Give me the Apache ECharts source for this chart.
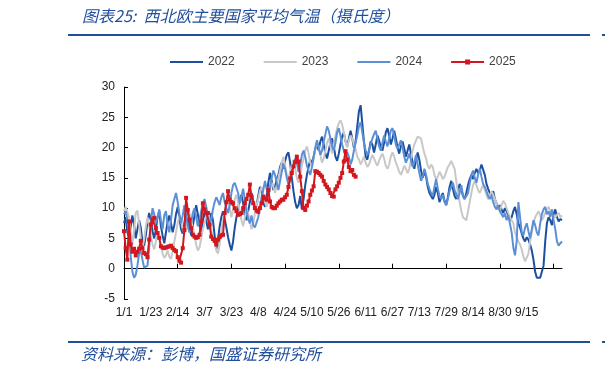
<!DOCTYPE html>
<html>
<head>
<meta charset="utf-8">
<script src="https://cdn.jsdelivr.net/npm/echarts@6/dist/echarts.min.js"></script>
<style>
html,body{margin:0;padding:0;background:#fff;}
#chart{width:605px;height:375px;}
</style>
</head>
<body>
<div id="chart"></div>
<script>
// ---- data ----
const tickLabels = ['1/1','1/23','2/14','3/7','3/23','4/8','4/24','5/10','5/26','6/11','6/27','7/13','7/29','8/14','8/30','9/15'];
const categoryCount = 262;

const y2022 = [
 7.5, 8.5, 6.0, 5.2, 7.0, 8.8, 7.2, 5.0, 6.5, 8.0,
 6.8, 4.5, 3.8, 5.5, 7.8, 9.2, 8.0, 6.2, 5.0, 6.5,
 8.5, 9.5, 7.0, 5.5, 4.2, 6.0, 7.8, 8.8, 7.5, 6.0,
 7.2, 9.0, 10.2, 8.5, 6.5, 5.8, 7.5, 9.8, 8.2, 6.8,
 5.5, 7.0, 8.8, 10.5, 9.0, 7.2, 6.0, 8.0, 9.5, 8.0,
 6.5, 7.8, 9.2, 8.0, 5.5, 3.2, 4.8, 7.0, 8.5, 9.5,
 8.2, 6.8, 5.2, 4.0, 3.0, 4.5, 6.8, 8.5, 10.0, 11.5,
 12.2, 10.8, 9.0, 8.0, 9.5, 11.0, 12.5, 11.2, 9.8, 10.5,
 12.0, 13.5, 12.8, 11.0, 10.2, 12.0, 14.2, 15.8, 14.5, 13.0,
 13.5, 14.8, 15.5, 16.8, 17.5, 16.5, 17.8, 18.8, 19.2, 17.5,
 15.0, 12.8, 11.0, 10.0, 10.5, 12.0, 9.8, 11.5, 13.8, 15.5,
 16.8, 18.0, 17.2, 18.5, 19.8, 20.5, 19.5, 21.0, 21.8, 20.5,
 19.0, 18.2, 19.5, 20.8, 21.5, 20.2, 18.5, 17.8, 19.0, 20.5,
 21.8, 22.5, 21.0, 20.2, 21.5, 22.8, 21.5, 20.0, 21.0, 23.5,
 26.0, 27.0, 24.0, 21.0, 18.5, 18.0, 19.5, 21.0, 20.5, 19.2,
 20.5, 22.0, 21.2, 20.0, 19.5, 20.8, 22.5, 23.2, 22.0, 20.5,
 21.5, 22.8, 21.5, 20.0, 19.0, 20.2, 21.0, 19.8, 18.5, 19.5,
 20.5, 19.0, 17.5, 16.5, 18.0, 19.2, 18.0, 16.2, 15.0, 16.0,
 15.2, 13.5, 12.5, 12.8, 11.5, 12.2, 13.5, 12.5, 11.0, 11.8,
 12.5, 11.2, 10.5, 11.8, 13.5, 14.5, 13.2, 12.0, 11.5, 12.8,
 14.0, 13.2, 12.0, 11.5, 12.5, 13.8, 14.8, 15.5, 14.8, 15.8,
 16.5, 15.8, 16.2, 17.2, 17.0, 15.5, 14.0, 13.2, 12.5, 12.0,
 12.8, 11.5, 10.8, 10.0, 10.5, 9.8, 9.2, 10.0, 9.5, 8.8,
 8.0, 8.5, 9.5, 10.2, 9.0, 7.5, 6.8, 5.8, 5.0, 4.5,
 5.2, 4.8, 4.0, 3.0, 1.5, -0.5, -1.5, -1.8, -1.5, -1.6,
 0.5, 4.5, 7.5, 8.5, 8.0, 7.2, 9.0, 9.8, 8.5, 7.8,
 8.2, 8.0
];

const y2023 = [
 9.5, 10.2, 10.4, 8.5, 6.0, 4.0, 6.5, 9.2, 9.6, 7.5,
 5.0, 3.5, 4.8, 7.0, 8.5, 7.2, 5.5, 4.0, 3.2, 4.5,
 6.0, 5.2, 3.8, 2.5, 1.8, 2.2, 3.0, 2.0, 1.6, 2.8,
 4.5, 6.0, 7.5, 8.8, 8.0, 6.5, 5.8, 7.0, 8.5, 9.2,
 8.0, 6.8, 5.5, 4.0, 3.0, 3.5, 5.0, 6.5, 7.5, 8.8,
 9.5, 8.2, 6.5, 5.0, 4.2, 3.0, 2.5, 4.0, 6.2, 8.0,
 9.5, 10.5, 11.2, 10.0, 8.5, 9.8, 11.5, 12.2, 11.0, 9.5,
 8.0, 7.0, 8.5, 10.0, 9.2, 7.8, 6.5, 7.5, 9.0, 10.5,
 11.5, 12.8, 13.5, 12.2, 11.0, 10.2, 11.8, 13.0, 14.2, 13.5,
 12.5, 13.8, 15.0, 16.2, 17.5, 18.5, 17.0, 15.5, 14.8, 16.0,
 17.2, 18.0, 16.5, 15.0, 14.2, 15.5, 17.0, 18.2, 19.5, 20.2,
 19.0, 17.5, 16.8, 18.0, 19.8, 21.0, 20.2, 18.8, 17.5, 18.2,
 19.5, 20.8, 21.5, 20.2, 19.0, 20.5, 22.0, 23.2, 24.0, 24.5,
 23.8, 22.5, 21.0, 20.0, 21.2, 22.0, 21.5, 20.5, 19.8, 18.5,
 18.0, 17.2, 17.8, 18.5, 17.5, 16.8, 17.2, 18.0, 18.8, 18.2,
 17.5, 17.0, 17.8, 18.5, 19.0, 18.2, 17.0, 16.5, 17.2, 18.5,
 19.2, 18.5, 17.5, 16.8, 16.0, 15.5, 16.2, 17.0, 16.5, 15.8,
 16.5, 18.0, 19.5, 20.5, 21.2, 21.8, 22.0, 21.5, 20.2, 19.0,
 18.2, 17.0, 16.5, 17.2, 16.8, 15.5, 14.8, 15.2, 16.0, 15.5,
 14.8, 15.2, 16.0, 16.8, 17.2, 17.8, 17.5, 16.5, 14.5, 12.5,
 11.0, 9.5, 8.5, 8.2, 8.0, 9.5, 11.0, 12.5, 13.8, 14.5,
 13.8, 13.0, 12.5, 13.2, 13.8, 13.0, 12.2, 11.5, 12.0, 12.8,
 12.2, 11.5, 10.8, 10.0, 9.5, 10.5, 11.2, 10.8, 10.0, 9.2,
 8.5, 8.8, 7.5, 6.0, 5.2, 4.5, 4.0, 3.2, 2.0, 1.2,
 1.0, 2.5, 4.5, 6.0, 7.5, 8.5, 9.0, 9.5, 8.8, 8.0,
 8.5, 9.2, 9.8, 10.2, 9.5, 8.8, 9.0, 8.5, 8.8, 9.2,
 8.5, 8.8
];

const y2024 = [
 9.0, 9.5, 8.0, 5.5, 2.0, -0.5, -1.5, -1.0, 0.5, 2.5,
 3.0, 1.5, 0.2, 0.0, 0.5, 3.5, 7.5, 10.0, 9.0, 7.5,
 8.5, 9.8, 8.0, 6.5, 8.8, 9.5, 7.2, 6.0, 8.0, 10.5,
 11.5, 12.5, 11.0, 9.0, 7.5, 8.8, 10.5, 9.2, 7.0, 6.0,
 7.5, 9.2, 10.0, 8.5, 7.0, 8.0, 9.5, 10.8, 11.5, 10.2,
 8.8, 7.5, 8.0, 9.8, 11.0, 11.8, 11.2, 10.5, 11.8, 12.5,
 11.0, 10.0, 9.2, 10.5, 12.5, 13.8, 14.2, 14.5, 12.5, 10.8,
 12.0, 13.2, 11.5, 9.5, 8.2, 7.5, 8.8, 7.2, 6.8, 7.0,
 8.5, 10.2, 11.8, 13.0, 14.5, 13.2, 12.0, 13.5, 15.0, 16.2,
 15.5, 14.2, 13.0, 14.5, 16.0, 17.2, 16.5, 15.0, 13.8, 14.5,
 15.8, 17.0, 18.2, 17.5, 16.0, 17.2, 18.8, 19.5, 18.5, 17.0,
 16.2, 15.5, 16.8, 18.5, 20.0, 21.2, 20.0, 18.8, 19.5, 21.0,
 22.2, 23.5, 22.8, 21.5, 20.2, 19.5, 20.8, 22.5, 23.2, 22.0,
 20.5, 19.5, 18.8, 19.2, 18.5, 17.2, 18.0, 19.5, 20.8, 22.0,
 23.5, 24.2, 22.5, 20.8, 19.5, 18.8, 19.5, 20.5, 21.5, 22.2,
 22.8, 21.5, 20.2, 19.5, 20.8, 22.0, 21.0, 20.2, 21.5, 22.8,
 23.2, 22.0, 20.5, 19.8, 20.5, 21.2, 20.0, 18.5, 17.5, 18.2,
 19.0, 18.0, 16.8, 17.5, 18.8, 17.2, 15.8, 14.5, 15.2, 16.5,
 15.5, 14.0, 13.2, 12.5, 12.0, 13.5, 14.8, 13.2, 12.0, 11.5,
 12.2, 11.0, 10.5, 11.5, 12.8, 13.5, 14.2, 13.0, 12.2, 11.5,
 12.5, 13.8, 12.0, 11.5, 11.2, 12.5, 14.0, 15.5, 16.2, 15.0,
 14.2, 15.5, 16.5, 15.2, 14.0, 13.5, 12.8, 12.0, 11.5, 12.0,
 11.0, 10.2, 9.8, 10.5, 9.5, 9.0, 8.5, 9.2, 8.0, 8.8,
 8.5, 6.0, 3.5, 2.2, 4.5, 11.0, 8.5, 6.0, 5.5, 6.8,
 7.5, 6.2, 5.0, 6.5, 8.0, 7.2, 6.0, 5.5, 7.5, 9.0,
 9.8, 10.2, 9.0, 9.5, 8.5, 9.8, 8.0, 6.5, 4.5, 3.8,
 4.2, 4.5
];

const y2025 = [
 6.2, 3.4, 1.5, 7.8, 4.0, 2.8, 3.3, 2.2, 2.8, 3.3,
 4.6, 3.4, 2.6, 2.4, 1.9, 4.8, 7.3, 8.1, 8.4, 6.7,
 5.9, 5.1, 3.7, 3.5, 3.4, 3.5, 3.6, 3.7, 3.8, 3.4,
 3.1, 2.9, 1.9, 1.3, 1.0, 3.4, 6.4, 11.7, 9.7, 8.1,
 6.7, 5.6, 5.3, 5.1, 5.2, 5.6, 7.8, 10.8, 9.8, 9.2,
 9.2, 7.3, 5.3, 4.9, 4.6, 4.0, 4.8, 5.2, 5.5, 5.6,
 9.2, 11.0, 12.8, 11.4, 11.0, 10.8, 10.0, 9.5, 8.9, 9.0,
 9.2, 10.0, 10.8, 11.5, 12.2, 13.9, 11.9, 10.8, 10.0, 9.6,
 9.4, 10.0, 10.8, 11.9, 11.6, 11.4, 13.0, 11.1, 10.2, 10.0,
 10.0, 10.4, 10.8, 11.1, 11.4, 11.4, 11.8, 12.2, 13.5, 14.9,
 15.8, 16.9, 17.6, 18.5, 17.7, 15.2, 12.8, 10.0, 9.7, 10.4,
 11.1, 12.2, 12.9, 13.6, 16.1, 16.0, 15.8, 15.5, 15.2, 14.5,
 13.9, 13.5, 13.1, 12.5, 12.0, 11.9, 13.1, 13.6, 14.2, 15.0,
 15.8, 17.7, 19.4, 18.0, 16.8, 16.1, 16.3, 15.5, 15.2
];

const categories = [];
for (let i = 0; i < categoryCount; i++) {
  categories.push(i % 16 === 0 && i / 16 < tickLabels.length ? tickLabels[i / 16] : '');
}

const chart = echarts.init(document.getElementById('chart'), null, {renderer: 'canvas'});
const blueText = '#1f4e9c';
const labelFont = 'Liberation Sans';
const lineIcon = 'path://M0,0 L33,0 L33,2 L0,2 Z';
const markerIcon = 'path://M0,2 L33,2 L33,4 L0,4 Z M14,0.5 L19,0.5 L19,5.5 L14,5.5 Z';

chart.setOption({
  animation: false,
  backgroundColor: '#ffffff',
  graphic: [
    {type: 'text', left: 82, top: 8, style: {text: '图表25:  西北欧主要国家平均气温（摄氏度）', fill: blueText,
      font: 'italic 16px "Noto Sans CJK SC"'}},
    {type: 'rect', shape: {x: 68, y: 34, width: 522, height: 2}, style: {fill: blueText}},
    {type: 'rect', shape: {x: 602, y: 34, width: 3, height: 2}, style: {fill: blueText}},
    {type: 'rect', shape: {x: 68, y: 341, width: 522, height: 2}, style: {fill: blueText}},
    {type: 'rect', shape: {x: 602, y: 341, width: 3, height: 2}, style: {fill: blueText}},
    {type: 'text', left: 81, top: 346, style: {text: '资料来源：彭博，国盛证券研究所', fill: blueText,
      font: 'italic 16px "Noto Sans CJK SC"'}}
  ],
  legend: {
    left: 165, top: 51,
    itemWidth: 33, itemHeight: 12, itemGap: 29,
    textStyle: {fontSize: 12, color: '#404040', fontFamily: labelFont},
    data: [
      {name: '2022', icon: lineIcon},
      {name: '2023', icon: lineIcon},
      {name: '2024', icon: lineIcon},
      {name: '2025', icon: markerIcon}
    ]
  },
  grid: {left: 124, right: 43, top: 87, bottom: 76, containLabel: false},
  xAxis: {
    type: 'category',
    data: categories,
    boundaryGap: false,
    axisLine: {onZero: true, lineStyle: {color: '#000', width: 1}},
    axisTick: {show: true, inside: true, length: 5, interval: 31, lineStyle: {color: '#000'}},
    axisLabel: {interval: 15, margin: 8, fontSize: 12, color: '#222', fontFamily: labelFont},
    splitLine: {show: false}
  },
  yAxis: {
    type: 'value',
    min: -5, max: 30, interval: 5,
    axisLine: {show: true, lineStyle: {color: '#000', width: 1}},
    axisTick: {show: true, inside: true, length: 4, lineStyle: {color: '#000'}},
    axisLabel: {fontSize: 12, color: '#222', margin: 9, fontFamily: labelFont},
    splitLine: {show: false}
  },
  series: [
    {name: '2022', type: 'line', data: y2022, symbol: 'none', lineStyle: {color: '#1d4f9f', width: 2}, itemStyle: {color: '#1d4f9f'}},
    {name: '2023', type: 'line', data: y2023, symbol: 'none', lineStyle: {color: '#c8c8c8', width: 2}, itemStyle: {color: '#c8c8c8'}},
    {name: '2024', type: 'line', data: y2024, symbol: 'none', lineStyle: {color: '#5b8fd6', width: 2}, itemStyle: {color: '#5b8fd6'}},
    {name: '2025', type: 'line', data: y2025, symbol: 'rect', symbolSize: 4, showAllSymbol: true,
      lineStyle: {color: '#d2181e', width: 2}, itemStyle: {color: '#d2181e'}}
  ]
});
</script>
</body>
</html>
